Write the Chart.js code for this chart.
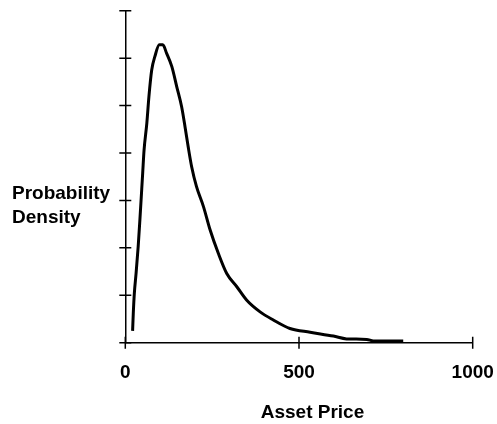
<!DOCTYPE html>
<html><head><meta charset="utf-8">
<script src="https://cdn.jsdelivr.net/npm/chart.js@4/dist/chart.umd.min.js"></script>
<style>html,body{margin:0;padding:0;background:#fff;} canvas{display:block;}</style>
</head><body>
<canvas id="c" width="497" height="424"></canvas>
<script>
// ---- data ----
const assetPrice = [21, 23, 26, 31, 37, 42, 50, 54, 62, 68, 76, 85, 98, 108, 119, 134, 148, 162, 172, 181, 191, 205, 225, 244, 268, 292, 321, 349, 388, 426, 474, 532, 599, 637, 695, 714, 800];
const probabilityDensity = [0.25, 0.62, 1.04, 1.46, 2.02, 2.59, 3.57, 4.06, 4.63, 5.19, 5.75, 6.03, 6.28, 6.28, 6.10, 5.82, 5.40, 4.98, 4.55, 4.13, 3.71, 3.29, 2.87, 2.38, 1.88, 1.46, 1.18, 0.90, 0.65, 0.48, 0.30, 0.22, 0.14, 0.08, 0.07, 0.035, 0.035];
const xTickValues = [0, 500, 1000];
const xTickLabels = ['0', '500', '1000'];
const yTickCount = 7;
const yAxisLabel = ['Probability', 'Density'];
const xAxisLabel = 'Asset Price';

const FONT = 'Liberation Sans, Arial, Helvetica, sans-serif';

const points = assetPrice.map((x, i) => ({x: x, y: probabilityDensity[i]}));

const crossTicks = {
  id: 'crossTicks',
  afterDraw(chart) {
    const ctx = chart.ctx;
    const xs = chart.scales.x, ys = chart.scales.y;
    const area = chart.chartArea;
    ctx.save();
    ctx.strokeStyle = '#000';
    ctx.lineWidth = 1.5;
    ctx.beginPath();
    xs.ticks.forEach(t => {
      const px = xs.getPixelForValue(t.value);
      ctx.moveTo(px, area.bottom - 6);
      ctx.lineTo(px, area.bottom + 6);
    });
    ys.ticks.forEach(t => {
      const py = ys.getPixelForValue(t.value);
      ctx.moveTo(area.left - 6, py);
      ctx.lineTo(area.left + 6, py);
    });
    ctx.stroke();
    // axis titles
    ctx.fillStyle = '#000';
    ctx.font = 'bold 19px ' + FONT;
    ctx.textAlign = 'left';
    ctx.textBaseline = 'alphabetic';
    const midY = ys.getPixelForValue(3);
    ctx.fillText(yAxisLabel[0], 12, midY - 1);
    ctx.fillText(yAxisLabel[1], 12, midY + 22.5);
    ctx.textAlign = 'center';
    ctx.fillText(xAxisLabel, 312.5, 418);
    ctx.restore();
  }
};

new Chart(document.getElementById('c'), {
  type: 'line',
  data: {
    datasets: [{
      data: points,
      borderColor: '#000',
      borderWidth: 3,
      pointRadius: 0,
      fill: false,
      cubicInterpolationMode: 'monotone'
    }]
  },
  options: {
    responsive: false,
    animation: false,
    devicePixelRatio: 1,
    layout: { padding: { left: 125.3, right: 24.3, top: 10.7, bottom: 0 } },
    plugins: { legend: { display: false }, tooltip: { enabled: false } },
    scales: {
      x: {
        type: 'linear',
        min: 0, max: 1000,
        afterBuildTicks(scale) { scale.ticks = xTickValues.map(v => ({value: v})); },
        afterFit(scale) { scale.height = 81.3; scale.paddingLeft = 0; scale.paddingRight = 0; },
        grid: { display: false, drawTicks: true, tickLength: 19 },
        border: { display: true, color: '#000', width: 1.5 },
        ticks: { padding: 0, color: '#000', maxRotation: 0, autoSkip: false,
                 callback: (v, i) => xTickLabels[xTickValues.indexOf(v)] ?? String(v),
                 font: { family: FONT, size: 19, weight: 'bold' } }
      },
      y: {
        type: 'linear',
        min: 0, max: yTickCount,
        ticks: { display: false, stepSize: 1 },
        afterFit(scale) { scale.width = 0; },
        grid: { display: false, drawTicks: false },
        border: { display: true, color: '#000', width: 1.5 }
      }
    }
  },
  plugins: [crossTicks]
});
</script>
</body></html>
